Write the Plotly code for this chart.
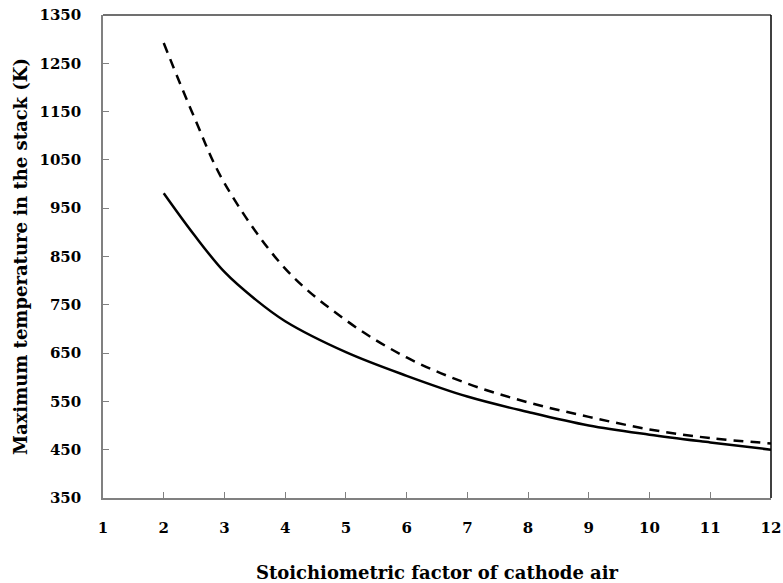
import plotly.graph_objects as go

x_solid = [2, 2.5, 3, 3.5, 4, 5, 6, 7, 8, 9, 10, 11, 12]
y_solid = [981, 895, 818, 762, 716, 652, 603, 560, 528, 500, 481, 465, 450]

x_dash = [2, 2.5, 3, 4, 5, 6, 7, 8, 9, 10, 11, 12]
y_dash = [1292, 1139, 1002, 825, 718, 641, 587, 548, 518, 492, 474, 463]

x_ticks = list(range(1, 13))
y_ticks = list(range(350, 1351, 100))

font_family = "DejaVu Serif"

fig = go.Figure()
fig.add_trace(go.Scatter(x=x_solid, y=y_solid, mode="lines",
                         line=dict(color="black", width=2.5, shape="spline", smoothing=1.0),
                         showlegend=False))
fig.add_trace(go.Scatter(x=x_dash, y=y_dash, mode="lines",
                         line=dict(color="black", width=2.5, dash="10px,7px", shape="spline", smoothing=1.0),
                         showlegend=False))

fig.update_layout(
    width=783, height=583,
    margin=dict(l=103, r=12, t=15, b=85, autoexpand=False),
    plot_bgcolor="white", paper_bgcolor="white",
    font=dict(family=font_family, color="black"),
    xaxis=dict(range=[1, 12], tickvals=x_ticks, ticks="inside", ticklen=6,
               tickcolor="#808080", showline=True, linecolor="#808080", linewidth=1.5,
               showgrid=False, zeroline=False, automargin=False,
               tickfont=dict(size=15, family=font_family, weight="bold"),
               ticklabelstandoff=15,
               title=dict(text="<b>Stoichiometric factor of cathode air</b>",
                          font=dict(size=18, family=font_family), standoff=33)),
    yaxis=dict(range=[350, 1350], tickvals=y_ticks, ticks="inside", ticklen=6,
               tickcolor="#808080", showline=True, linecolor="#808080", linewidth=1.5,
               showgrid=False, zeroline=False, automargin=False,
               tickfont=dict(size=15, family=font_family, weight="bold"),
               ticklabelstandoff=17,
               title=dict(text="<b>Maximum temperature in the stack (K)</b>",
                          font=dict(size=18, family=font_family), standoff=7)),
    shapes=[
        dict(type="line", xref="paper", yref="paper", x0=0, x1=1, y0=1, y1=1,
             line=dict(color="#404040", width=1.5)),
        dict(type="line", xref="paper", yref="paper", x0=1, x1=1, y0=0, y1=1,
             line=dict(color="black", width=1.5)),
    ],
)

fig.write_html("out.html")
